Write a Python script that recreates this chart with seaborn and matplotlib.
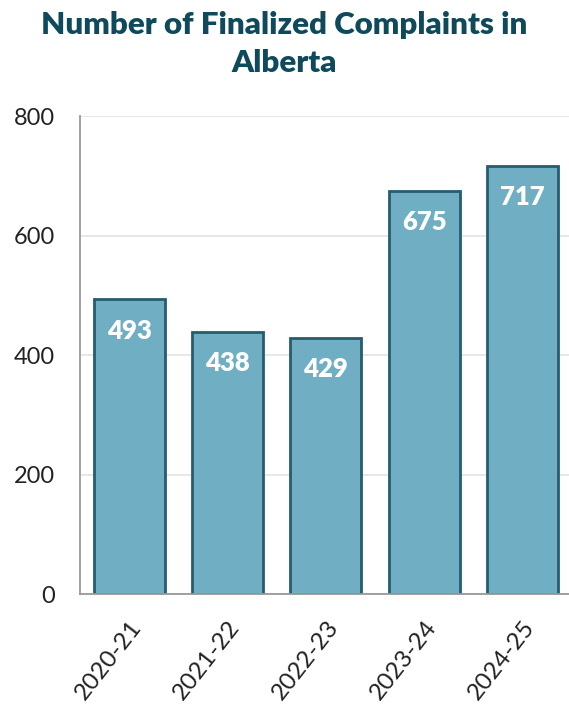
import matplotlib
matplotlib.use("Agg")
import matplotlib.pyplot as plt
import seaborn as sns
import pandas as pd
import numpy as np

# Finalized complaints per fiscal year
years = ["2020-21", "2021-22", "2022-23", "2023-24", "2024-25"]
complaints = [493, 438, 429, 675, 717]
y_ticks = [0, 200, 400, 600, 800]

df = pd.DataFrame({"year": years, "complaints": complaints})

sns.set_theme(style="white")
plt.rcParams["font.family"] = ["Lato", "DejaVu Sans"]

fig = plt.figure(figsize=(5.69, 7.06), dpi=100)
ax = fig.add_axes([0.1406, 0.1586, 0.864, 0.677])

sns.barplot(data=df, x="year", y="complaints", ax=ax, color="#70AFC3",
            width=0.72, edgecolor="#255D6E", linewidth=2, saturation=1)

ax.set_ylim(0, 800)
ax.set_xlim(-0.5, len(years) - 0.5)
ax.set_yticks(y_ticks)
ax.set_yticklabels([str(t) for t in y_ticks], fontsize=17, color="#222222")
ax.yaxis.grid(True, color="#E0E3E5", linewidth=1.2)
ax.set_axisbelow(True)

# category separators on the x axis
ax.set_xticks(np.arange(len(years) + 1) - 0.5, minor=True)
ax.tick_params(axis="x", which="minor", length=7, width=1.3, color="#999999", direction="out")
ax.tick_params(axis="x", which="major", length=0, pad=16)
ax.tick_params(axis="y", which="major", length=6, width=1.3, color="#999999",
               direction="out", pad=12)
ax.set_xticks(range(len(years)))
ax.set_xticklabels(years, rotation=52, ha="right", rotation_mode="anchor",
                   fontsize=17.5, color="#222222")

ax.set_xlabel("")
ax.set_ylabel("")

for side in ["top", "right"]:
    ax.spines[side].set_visible(False)
for side in ["left", "bottom"]:
    ax.spines[side].set_color("#999999")
    ax.spines[side].set_linewidth(1.3)

# value labels inside bar tops
for i, v in enumerate(complaints):
    ax.text(i, v - 32, str(v), ha="center", va="top", color="white",
            fontsize=18.5, fontweight="heavy")

fig.text(0.5, 0.984, "Number of Finalized Complaints in", ha="center", va="top",
         fontsize=22.5, fontweight="heavy", color="#0E4A5C")
fig.text(0.5, 0.930, "Alberta", ha="center", va="top",
         fontsize=22.5, fontweight="heavy", color="#0E4A5C")

fig.savefig("out.png", dpi=100, facecolor="white")
